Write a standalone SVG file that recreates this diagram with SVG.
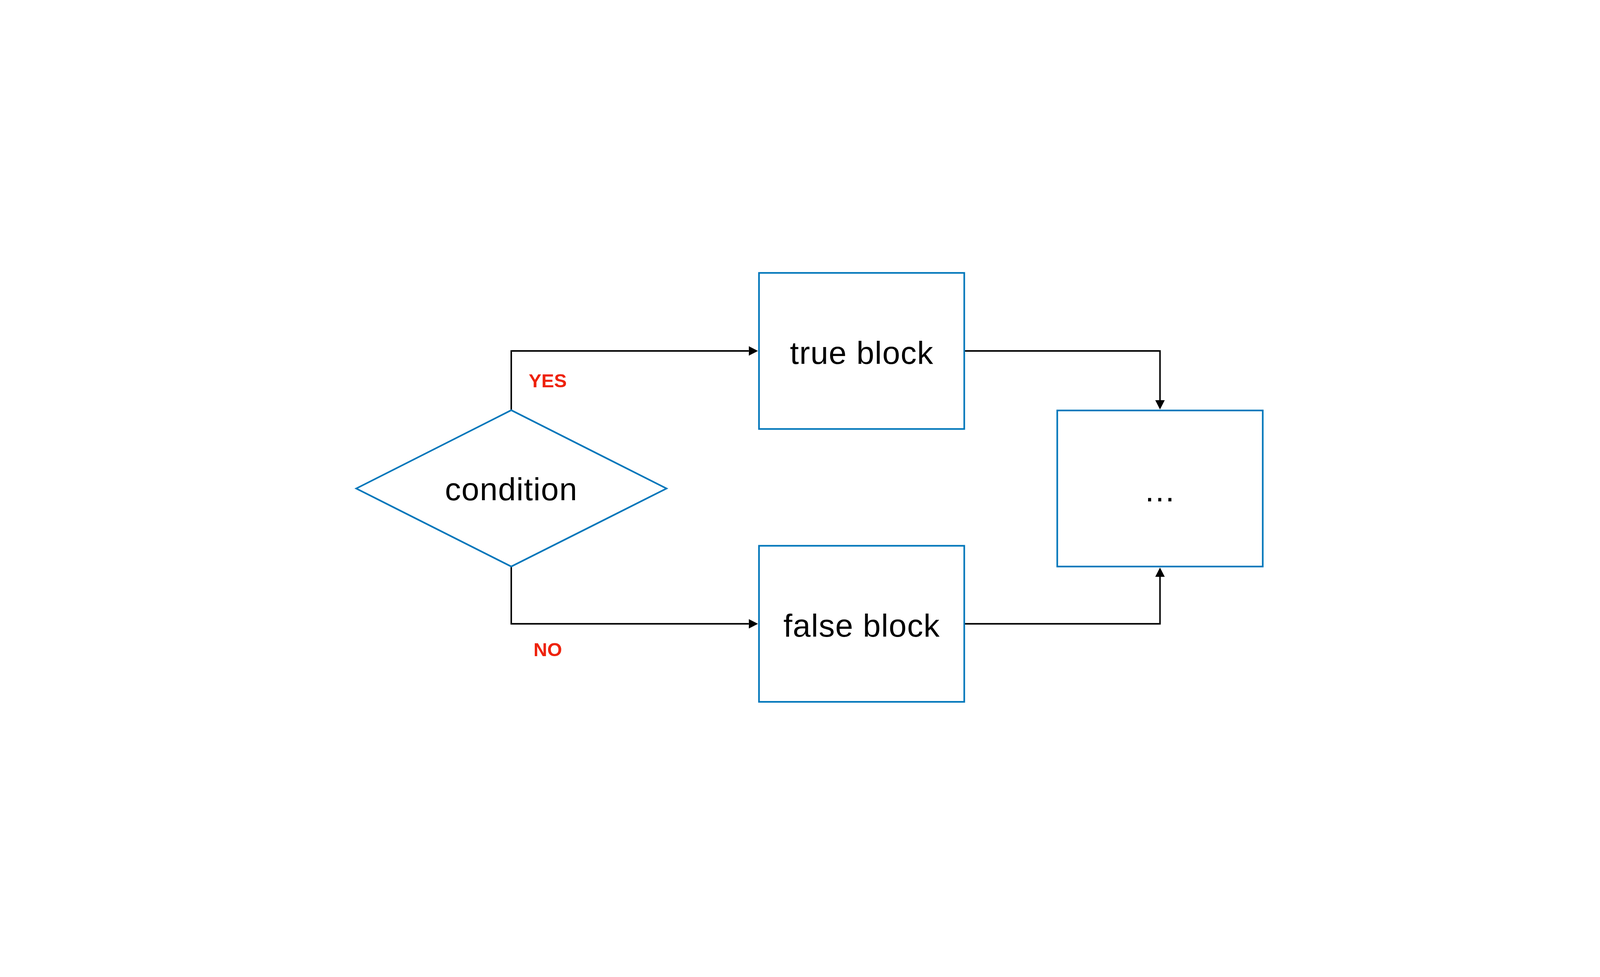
<svg xmlns="http://www.w3.org/2000/svg" width="6400" height="2500" viewBox="0 0 6400 2500" style="width:100vw;height:100vh">
  <style>
    .shape { fill: #FFFFFF; stroke: #0076BA; stroke-width: 6.5; }
    .conn { fill: none; stroke: #000000; stroke-width: 6; stroke-linecap: butt; stroke-linejoin: miter; }
    .label { font-family: "Liberation Sans", Arial, Helvetica, sans-serif; font-size: 128px; fill: #000000; text-anchor: middle; letter-spacing: 2px; }
    .branch { font-family: "Liberation Sans", Arial, Helvetica, sans-serif; font-size: 76px; font-weight: bold; fill: #EE220C; text-anchor: middle; }
  </style>
  <defs>
    <marker id="arrow" markerUnits="userSpaceOnUse" markerWidth="38" markerHeight="38" refX="0" refY="19" orient="auto" viewBox="0 0 38 38">
      <path d="M0,0 L37,19 L0,38 Z" fill="#000000"/>
    </marker>
  </defs>
  <rect x="0" y="0" width="6400" height="2500" fill="#FFFFFF"/>

  <g id="connectors">
    <path class="conn" d="M2045,937 V700 H2995" marker-end="url(#arrow)"/>
    <path class="conn" d="M2045,1562 V1791 H2995" marker-end="url(#arrow)"/>
    <path class="conn" d="M3857,700 H4640 V897" marker-end="url(#arrow)"/>
    <path class="conn" d="M3857,1791 H4640 V1603" marker-end="url(#arrow)"/>
    <text class="branch" x="2191" y="845">YES</text>
    <text class="branch" x="2191" y="1921">NO</text>
  </g>

  <g id="condition">
    <polygon class="shape" points="1425,1250 2045,937 2666,1250 2045,1562"/>
    <text class="label" x="2045" y="1297">condition</text>
  </g>

  <g id="true-block">
    <rect class="shape" x="3036" y="388" width="821" height="624"/>
    <text class="label" x="3447" y="752">true block</text>
  </g>

  <g id="false-block">
    <rect class="shape" x="3036" y="1479" width="821" height="624"/>
    <text class="label" x="3447" y="1842">false block</text>
  </g>

  <g id="next">
    <rect class="shape" x="4229" y="938" width="822" height="624"/>
    <text class="label" x="4640" y="1301">…</text>
  </g>
</svg>
